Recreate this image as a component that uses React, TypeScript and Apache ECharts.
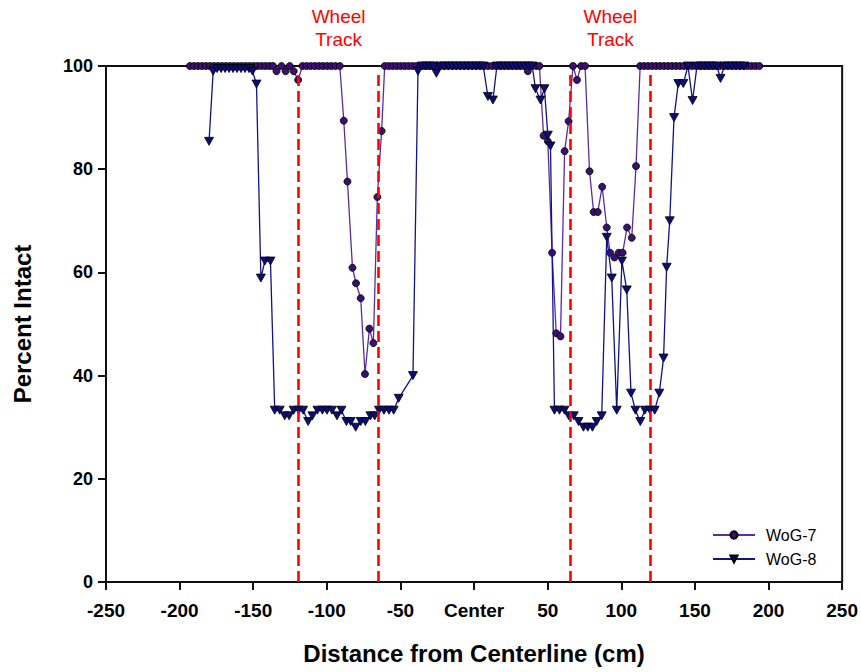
import React, { useEffect, useRef } from 'react';
import * as echarts from 'echarts';

// WoG-7 (circles)
const X7 = [
  -193, -190.3, -187.6, -184.9, -182.2, -179.5, -176.8, -174.1, -171.4, -168.7, -166, -163.3, -160.6, -157.9,
  -155.2, -152.5, -149.8, -147.1, -144.4, -141.7, -139, -136.6,
  -134.2, -130.8, -128, -125.2, -122.5, -119.5, -116.6, -113.8, -111, -108.2, -105.4, -102.6, -99.8, -97, -94.2, -91.2,
  -88.5, -86, -82.6, -80.2, -77, -74.1, -71.1, -68.4, -65.7, -62.8, -60.7,
  -58, -55.3, -52.6, -49.9, -47.2, -44.5, -41.8, -39.1, -36.4, -33.7, -31, -28.3, -25.6, -22.9, -20.2, -17.5,
  -14.8, -12.1, -9.4, -6.7, -4, -1.3, 1.4, 4.1, 6.8, 9.5, 12.2, 14.9, 17.6, 20.3, 23, 25.7, 28.4, 31.1, 33.8,
  36.5, 39.3, 42.2, 44.4, 47.2, 50.1, 53, 55.8, 58.7, 61.5, 64.2, 67.2, 69.9, 72.7, 75.4, 78.4, 81.2, 84, 87,
  90.1, 92.4, 95.3, 98.2, 100.9, 103.9, 107.1, 110, 112.8,
  115.5, 118.2, 120.9, 123.6, 126.3, 129, 131.7, 134.4, 137.1, 139.8, 142.5, 145.2, 147.9, 150.6, 153.3, 156,
  158.7, 161.4, 164.1, 166.8, 169.5, 172.2, 174.9, 177.6, 180.3, 183, 185.7, 188.4, 191.1, 193.8,
];
const Y7 = [
  100, 100, 100, 100, 100, 100, 100, 100, 100, 100, 100, 100, 100, 100,
  100, 100, 100, 100, 100, 100, 100, 100,
  99, 100, 99, 100, 99, 97.3, 100, 100, 100, 100, 100, 100, 100, 100, 100, 100,
  89.4, 77.6, 60.9, 57.9, 55, 40.3, 49.1, 46.3, 74.6, 87.4, 100,
  100, 100, 100, 100, 100, 100, 100, 100, 100, 100, 100, 100, 100, 100, 100, 100,
  100, 100, 100, 100, 100, 100, 100, 100, 100, 100, 100, 100, 100, 100, 100, 100, 100, 100, 100,
  99, 100, 100, 100, 86.5, 85.4, 63.8, 48.2, 47.6, 83.5, 89.3, 100, 97.3, 100, 100, 79.6, 71.7, 71.7, 76.6,
  68.7, 63.8, 62.9, 63.8, 63.8, 68.7, 66.7, 80.6, 100,
  100, 100, 100, 100, 100, 100, 100, 100, 100, 100, 100, 100, 100, 100, 100, 100,
  100, 100, 100, 100, 100, 100, 100, 100, 100, 100, 100, 100, 100, 100,
];

// WoG-8 (inverted triangles)
const X8 = [
  -180, -177.2, -174.5, -171.8, -169.1, -166.4, -163.7, -161, -158.3, -155.6, -152.9, -150.5,
  -147.8, -144.8, -142.1, -138.3, -135.4, -132, -128.6, -125.6, -122.5, -119.1, -116.1, -112.7, -109.8,
  -106.4, -103, -99.9, -96.5, -93.1, -90.1, -86.7, -83.8, -80.4, -77, -73.8, -70.4, -67.5, -64.6, -61.2,
  -57.8, -54.6, -51.2, -41.5, -38.1,
  -35.4, -32.7, -30, -27.5, -25.6, -22.8, -20.1, -17.4, -14.7, -12, -9.3, -6.6, -3.9, -1.2, 1.5, 4.2, 6.2,
  9.4, 12.8, 15.5, 18.2, 20.9, 23.6, 26.3, 29, 31.7, 34.4, 37.1, 39.5,
  41.7, 45.1, 47.8, 50.1, 51.9, 54.6, 58, 61.4, 64.3, 67.7, 70.9, 74.3, 77.2, 80.4, 83.3, 86.7,
  90.1, 93.5, 96.9, 100.4, 103.7, 106.6, 109.6, 112.9, 116, 119.5, 122.7, 125.8, 128.7, 130.8, 132.9,
  135.8, 138.7, 142.1, 145.3, 148.4, 151.4, 154.1, 156.8, 159.5, 162.2, 164.9, 167.4, 170, 172.7, 175.4,
  178.1, 180.8, 183.5,
];
const Y8 = [
  85.4, 99, 99.5, 99.5, 99.5, 99.5, 99.5, 99.5, 99.5, 99.5, 99.5, 99,
  96.5, 58.9, 62.2, 62.2, 33.3, 33.3, 32.2, 32.2, 33.3, 33.3, 33.3, 31.1, 32.2,
  33.3, 33.3, 33.3, 33.3, 32.2, 33.3, 31.1, 31.1, 30, 31.1, 31.1, 32.2, 32.2, 33.3, 33.3,
  33.3, 33.3, 35.6, 40, 99,
  100, 100, 100, 100, 98.6, 100, 100, 100, 100, 100, 100, 100, 100, 100, 100, 100, 100,
  94.1, 93.4, 100, 100, 100, 100, 100, 100, 100, 100, 100, 100,
  95.6, 93.4, 95.6, 86.6, 84.5, 33.3, 33.3, 33.3, 32.2, 32.2, 31.1, 30, 30, 30, 31.1, 32.2,
  66.8, 58.9, 33.3, 62.2, 56.6, 36.6, 33.3, 31.1, 33.3, 33.3, 33.3, 36.6, 43.4, 61, 70,
  90, 96.6, 96.6, 100, 93.3, 100, 100, 100, 100, 100, 100, 97.6, 100, 100, 100,
  100, 100, 100,
];

const SERIES_NAMES = ['WoG-7', 'WoG-8'];
const WHEEL_TRACK_EDGES = [-119.4, -65, 65, 119.4];
const WHEEL_TRACK_TOP = 98.8;
const X_TICKS = [-250, -200, -150, -100, -50, 0, 50, 100, 150, 200, 250];
const X_TICK_LABELS = ['-250', '-200', '-150', '-100', '-50', 'Center', '50', '100', '150', '200', '250'];
const WHEEL_LABEL = 'Wheel\nTrack';

const FONT = '"Liberation Sans", Arial, Helvetica, sans-serif';
const W = 861;
const GRID = { left: 106, right: 18, top: 66, bottom: 90 };

export default function App() {
  const ref = useRef<HTMLDivElement>(null);
  useEffect(() => {
    const chart = echarts.init(ref.current!, null, { renderer: 'svg' });
    const xMin = X_TICKS[0];
    const xMax = X_TICKS[X_TICKS.length - 1];
    const plotW = W - GRID.left - GRID.right;
    const toPx = (v: number) => GRID.left + ((v - xMin) / (xMax - xMin)) * plotW;
    const mk = (v: number) => ({
      type: 'text',
      x: toPx(v),
      y: 28,
      style: {
        text: WHEEL_LABEL,
        fill: '#ff0000',
        font: `19px ${FONT}`,
        textAlign: 'center',
        textVerticalAlign: 'middle',
        lineHeight: 23,
      },
    });
    const option: any = {
      animation: false,
      grid: {
        ...GRID,
        show: true,
        borderColor: '#111',
        borderWidth: 2,
        backgroundColor: 'transparent',
      },
      graphic: [
        mk((WHEEL_TRACK_EDGES[0] + WHEEL_TRACK_EDGES[1]) / 2),
        mk((WHEEL_TRACK_EDGES[2] + WHEEL_TRACK_EDGES[3]) / 2),
      ],
      legend: {
        data: SERIES_NAMES,
        orient: 'vertical',
        left: 712,
        top: 527,
        itemWidth: 42,
        itemHeight: 9,
        itemGap: 8,
        padding: 0,
        textStyle: { fontFamily: FONT, fontSize: 16, color: '#000', padding: [0, 0, 0, 6] },
      },
      xAxis: {
        type: 'value',
        min: xMin,
        max: xMax,
        interval: 50,
        name: 'Distance from Centerline (cm)',
        nameLocation: 'middle',
        nameGap: 59,
        nameTextStyle: { fontFamily: FONT, fontSize: 24, fontWeight: 'bold', color: '#000' },
        axisLine: { show: true, onZero: false, lineStyle: { color: '#111', width: 2 } },
        axisTick: { show: true, length: 8, lineStyle: { color: '#111', width: 2 } },
        splitLine: { show: false },
        axisLabel: {
          margin: 19,
          fontFamily: FONT,
          fontSize: 19,
          fontWeight: 'bold',
          color: '#000',
          showMinLabel: true,
          showMaxLabel: true,
          formatter: (v: number) => {
            const i = X_TICKS.indexOf(v);
            return i >= 0 ? X_TICK_LABELS[i] : String(v);
          },
        },
      },
      yAxis: {
        type: 'value',
        min: 0,
        max: 100,
        interval: 20,
        name: 'Percent Intact',
        nameLocation: 'middle',
        nameRotate: 90,
        nameGap: 72,
        nameTextStyle: { fontFamily: FONT, fontSize: 24, fontWeight: 'bold', color: '#000' },
        axisLine: { show: true, onZero: false, lineStyle: { color: '#111', width: 2 } },
        axisTick: { show: true, length: 8, lineStyle: { color: '#111', width: 2 } },
        splitLine: { show: false },
        axisLabel: { margin: 13, fontFamily: FONT, fontSize: 18, fontWeight: 'bold', color: '#000' },
      },
      series: [
        {
          name: SERIES_NAMES[0],
          type: 'line',
          data: X7.map((x, i) => [x, Y7[i]]),
          symbol: 'circle',
          symbolSize: 7,
          showAllSymbol: true,
          lineStyle: { color: '#5a2ca0', width: 1.3 },
          itemStyle: { color: '#3d0f70', borderColor: '#000', borderWidth: 0.8 },
          z: 3,
          markLine: {
            silent: true,
            symbol: 'none',
            animation: false,
            label: { show: false },
            lineStyle: { color: '#ff0000', width: 2.6, type: [11, 5] },
            data: WHEEL_TRACK_EDGES.map((x) => [{ coord: [x, 0] }, { coord: [x, WHEEL_TRACK_TOP] }]),
          },
        },
        {
          name: SERIES_NAMES[1],
          type: 'line',
          data: X8.map((x, i) => [x, Y8[i]]),
          symbol: 'triangle',
          symbolRotate: 180,
          symbolSize: [9, 8],
          showAllSymbol: true,
          lineStyle: { color: '#12128c', width: 1.3 },
          itemStyle: { color: '#0c0c78', borderColor: '#000', borderWidth: 0.8 },
          z: 4,
        },
      ],
    };
    chart.setOption(option);
    return () => chart.dispose();
  }, []);
  return <div ref={ref} style={{ position: 'absolute', left: 0, top: 0, width: W, height: 672, background: '#fff' }} />;
}
